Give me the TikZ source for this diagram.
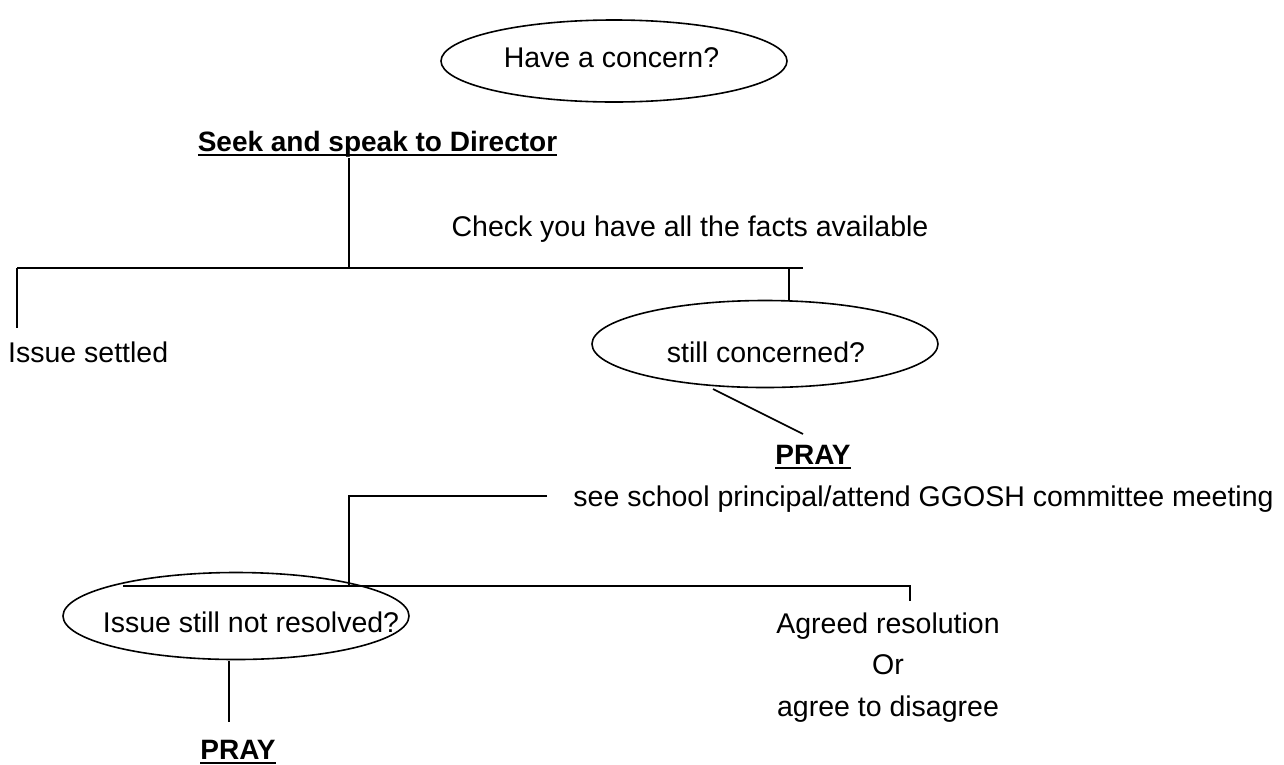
\documentclass[tikz,border=0pt]{standalone}
\usepackage{fontspec}
\setmainfont{Liberation Sans}
\usetikzlibrary{shapes.geometric}
\newcommand\myul[1]{\setbox0\hbox{#1}\rlap{\rule[-4.5pt]{\wd0}{1.5pt}}\box0}
\begin{document}
\begin{tikzpicture}[x=1pt,y=-1pt,
  txt/.style={inner sep=0pt,anchor=base,font=\fontsize{28.5}{41.5}\selectfont},
  btxt/.style={txt,font=\fontsize{28}{41.5}\selectfont\bfseries},
  oval/.style={draw,ellipse,line width=1.6pt,minimum width=346pt,minimum height=87pt,inner sep=0pt},
  conn/.style={line width=1.6pt}]
\useasboundingbox (0,0) rectangle (1284,764);
% ellipses
\node[oval,minimum height=82pt] (e1) at (614,61) {};
\node[oval] (e2) at (765,344) {};
\node[oval] (e3) at (236,616) {};
% texts
\node[txt] (t1) at (611.5,67) {Have a concern?};
\node[btxt] (seek) at (377.5,151) {\myul{Seek and speak to Director}};
\node[txt] (check) at (690,236) {Check you have all the facts available};
\node[txt,anchor=base west] (settled) at (8,362) {Issue settled};
\node[txt] (t2) at (766,362) {still concerned?};
\node[btxt] (pray1) at (813,464) {\myul{PRAY}};
\node[txt] (see) at (923.5,506) {see school principal/attend GGOSH committee meeting};
\node[txt] (t3) at (251,632) {Issue still not resolved?};
\node[txt,align=center] (agreed) at (888,716) {Agreed resolution\\Or\\agree to disagree};
\node[btxt] (pray2) at (238,759) {\myul{PRAY}};
% coordinates
\coordinate (a1) at (349,158);
\coordinate (j1) at (349,268);
\coordinate (hl) at (17,268);
\coordinate (hr) at (803,268);
\coordinate (j2) at (789,268);
\coordinate (sl) at (17,328);
\coordinate (d1) at (713,389);
\coordinate (d2) at (803,434);
\coordinate (s1) at (547,496);
\coordinate (s2) at (349,496);
\coordinate (j3) at (349,586);
\coordinate (h2l) at (123,586);
\coordinate (h2r) at (910,586);
\coordinate (tk) at (910,601);
\coordinate (p1) at (229,661);
\coordinate (p2) at (229,722);
% connectors
\draw[conn] (a1) -- (j1);
\draw[conn] (hl) -- (hr);
\draw[conn] (hl) -- (sl);
\draw[conn] (j2) -- (j2 |- e2.north);
\draw[conn] (d1) -- (d2);
\draw[conn] (s1) -- (s2) -- (j3);
\draw[conn] (h2l) -- (h2r) -- (tk);
\draw[conn] (p1) -- (p2);
\end{tikzpicture}
\end{document}
